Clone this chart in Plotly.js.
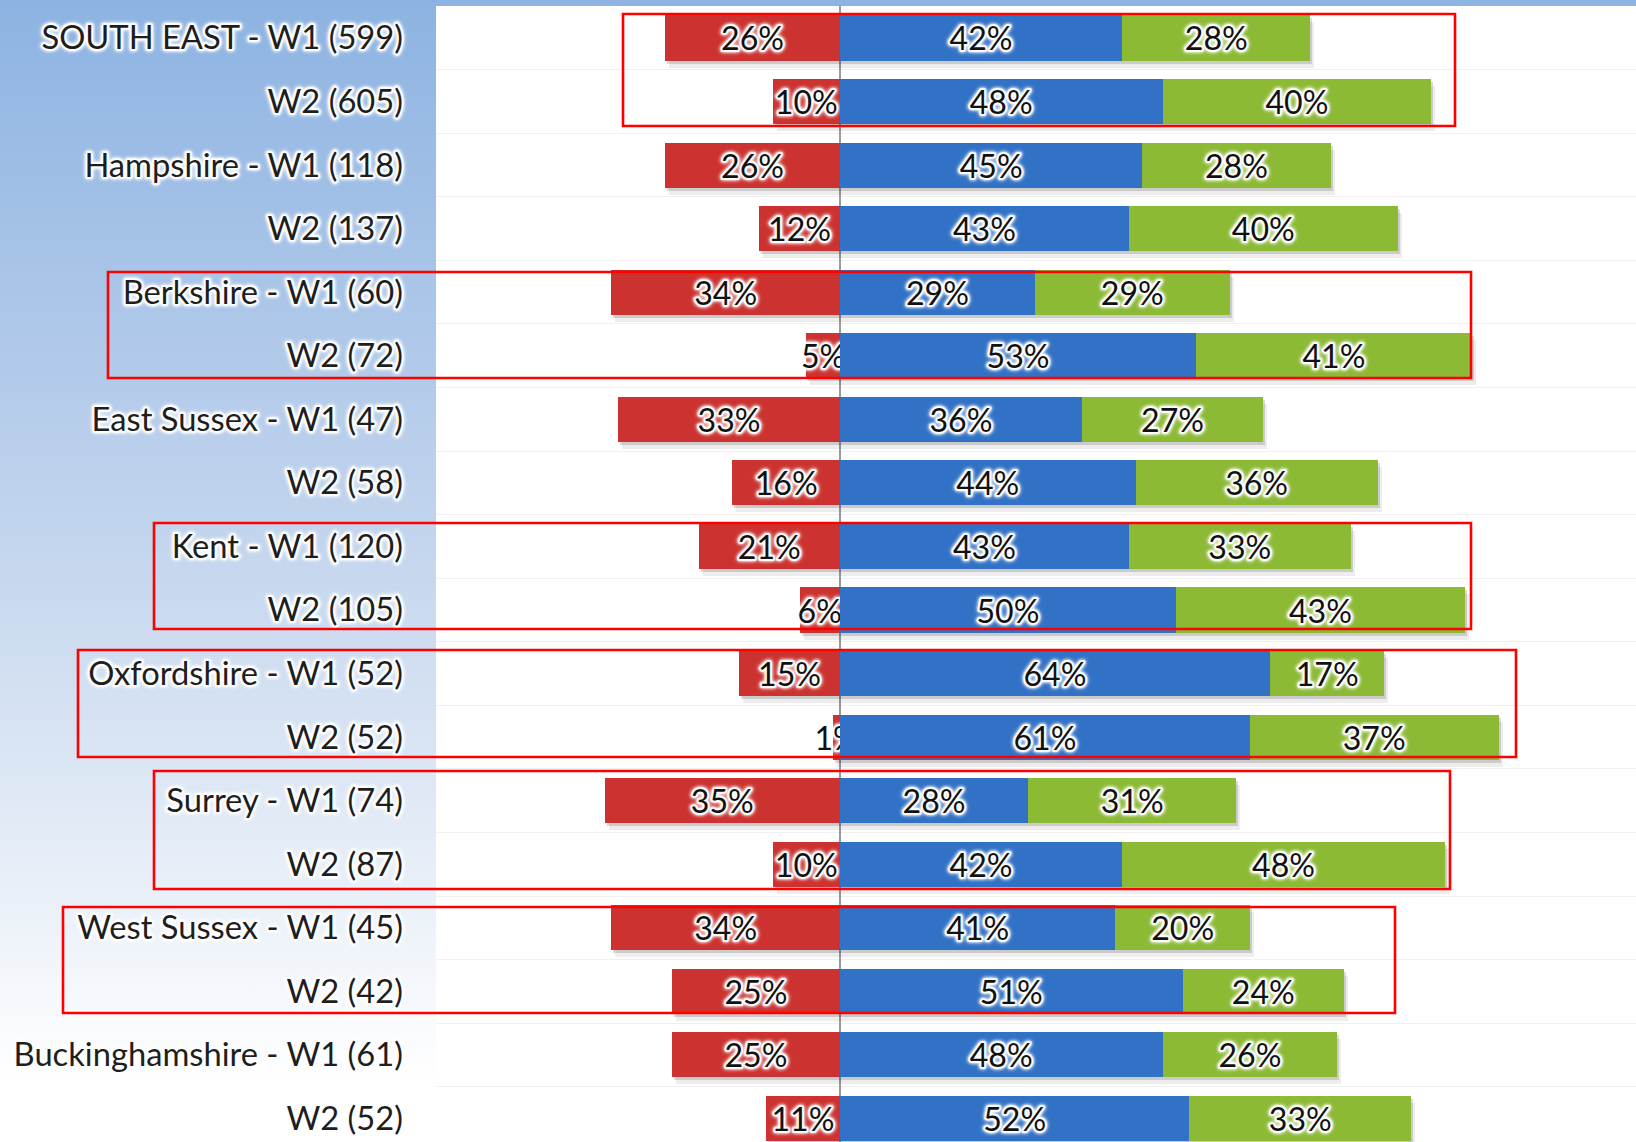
<!DOCTYPE html>
<html>
<head>
<meta charset="utf-8">
<script src="https://cdn.plot.ly/plotly-3.0.1.min.js"></script>
<style>
  html, body { margin: 0; padding: 0; width: 1636px; height: 1142px; overflow: hidden; }
  body { background: linear-gradient(to bottom, #8db3e2 0%, #c6d7ee 50%, #ffffff 95%); }
  #chart { width: 1636px; height: 1142px; }
  #chart .ytick text, #chart text.bartext {
    paint-order: stroke; stroke: rgba(255,255,255,0.8); stroke-width: 4px; stroke-linejoin: round;
  }
</style>
</head>
<body>
<div id="chart"></div>
<script>
// ---- data ----
const labels = [
  "SOUTH EAST - W1 (599)", "W2 (605)",
  "Hampshire - W1 (118)", "W2 (137)",
  "Berkshire - W1 (60)", "W2 (72)",
  "East Sussex - W1 (47)", "W2 (58)",
  "Kent - W1 (120)", "W2 (105)",
  "Oxfordshire - W1 (52)", "W2 (52)",
  "Surrey - W1 (74)", "W2 (87)",
  "West Sussex - W1 (45)", "W2 (42)",
  "Buckinghamshire - W1 (61)", "W2 (52)"
];
const redVals   = [26, 10, 26, 12, 34, 5, 33, 16, 21, 6, 15, 1, 35, 10, 34, 25, 25, 11];
const blueVals  = [42, 48, 45, 43, 29, 53, 36, 44, 43, 50, 64, 61, 28, 42, 41, 51, 48, 52];
const greenVals = [28, 40, 28, 40, 29, 41, 27, 36, 33, 43, 17, 37, 31, 48, 20, 24, 26, 33];

// ---- layout constants ----
const W = 1636, H = 1142;
const M = { l: 436, r: 0, t: 6, b: 0 };
const plotW = W - M.l - M.r, plotH = H - M.t - M.b;
const xRange = [-60.1, 118.45];
const yRange = [17.37, -0.503];
const barW = 0.71;
const FAMILY = 'Lato';
const FONT = 'Lato, "Open Sans", sans-serif';
const GLOW = '0 0 3px #ffffff, 0 0 4px #ffffff';

// fit font sizes to the widths measured in the reference
function fitSize(sample, targetPx) {
  const c = document.createElement('canvas').getContext('2d');
  c.font = '100px ' + FAMILY;
  return 100 * targetPx / c.measureText(sample).width;
}

function draw() {
  const labelSize = fitSize('Buckinghamshire - W1 (61)', 390);
  const pctSize = fitSize('42%', 63);

  const pos = labels.map((_, i) => i);
  const pct = a => a.map(v => v + '%');
  const neg = redVals.map(v => -v);
  const posTotal = blueVals.map((v, i) => v + greenVals[i]);

  const pxPerX = plotW / (xRange[1] - xRange[0]);
  const pxPerY = plotH / (yRange[0] - yRange[1]);

  const textFont = { family: FONT, size: pctSize, color: '#111111', shadow: GLOW };
  const common = {
    type: 'bar', orientation: 'h', y: pos, width: barW,
    hoverinfo: 'skip', cliponaxis: false, showlegend: false
  };
  const shadowLayer = (dxPx, dyPx, alpha) => {
    const sx = dxPx / pxPerX, sy = dyPx / pxPerY;
    const m = { color: 'rgba(0,0,0,' + alpha + ')', line: { width: 0 } };
    return [
      Object.assign({}, common, { x: redVals, base: neg.map(v => v + sx), offset: -barW / 2 + sy, marker: m }),
      Object.assign({}, common, { x: posTotal, base: posTotal.map(() => sx), offset: -barW / 2 + sy, marker: m })
    ];
  };
  const mainBar = (x, base, color, txt) => Object.assign({}, common, {
    x: x, base: base, text: txt, marker: { color: color, line: { width: 0 } },
    textposition: 'inside', insidetextanchor: 'middle', textangle: 0, constraintext: 'none',
    insidetextfont: textFont, textfont: textFont
  });

  const traces = [].concat(
    shadowLayer(4, 7, 0.07),
    shadowLayer(2, 3, 0.14),
    [
      mainBar(neg, undefined, '#cc3330', pct(redVals)),
      mainBar(blueVals, undefined, '#3272c6', pct(blueVals)),
      mainBar(greenVals, blueVals, '#8cba35', pct(greenVals))
    ]
  );

  // red highlight frames (decoration, pixel geometry -> paper coords)
  const framePx = [
    [623, 1455, 14, 126],
    [108, 1471, 272, 378],
    [154, 1471, 523, 629],
    [78, 1516, 650, 757],
    [154, 1450, 771, 889],
    [63, 1395, 907, 1013]
  ];
  const px2pX = px => (px - M.l) / plotW;
  const px2pY = py => (H - M.b - py) / plotH;
  const shapes = framePx.map(f => ({
    type: 'rect', xref: 'paper', yref: 'paper', layer: 'above',
    x0: px2pX(f[0]), x1: px2pX(f[1]), y0: px2pY(f[3]), y1: px2pY(f[2]),
    line: { color: '#ff0000', width: 2.6 }, fillcolor: 'rgba(0,0,0,0)'
  }));

  const layout = {
    width: W, height: H, margin: M,
    paper_bgcolor: 'rgba(0,0,0,0)', plot_bgcolor: '#ffffff',
    barmode: 'overlay', bargap: 0, showlegend: false,
    xaxis: {
      range: xRange, showgrid: false, showticklabels: false, ticks: '',
      zeroline: true, zerolinecolor: '#9a9a9a', zerolinewidth: 1.5, fixedrange: true
    },
    yaxis: {
      range: yRange, tickmode: 'array', tickvals: pos, ticktext: labels,
      showgrid: false, zeroline: false, ticks: '', ticklabelstandoff: 32,
      tickfont: { family: FONT, size: labelSize, color: '#1e1e1e', shadow: GLOW },
      minor: { tickmode: 'array', tickvals: pos.map(v => v + 0.5), showgrid: true, gridcolor: '#f0f0f0', gridwidth: 1, ticks: '' },
      fixedrange: true
    },
    shapes: shapes
  };

  Plotly.newPlot('chart', traces, layout, { displayModeBar: false, staticPlot: true });
}

if (document.fonts && document.fonts.load) {
  document.fonts.load('100px ' + FAMILY).then(draw, draw);
} else {
  draw();
}
</script>
</body>
</html>
